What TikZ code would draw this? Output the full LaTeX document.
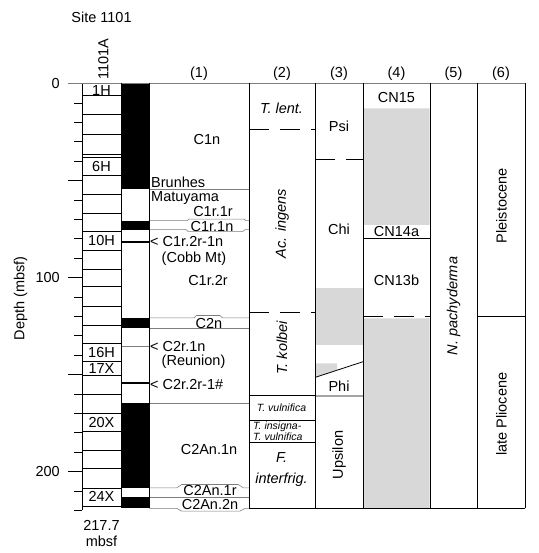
\documentclass[tikz,border=0pt]{standalone}
\usepackage{fontspec}
\setmainfont{Liberation Sans}
\usepackage{tikz}
\definecolor{chrongray}{RGB}{125,125,125}
\definecolor{stipgray}{RGB}{216,216,216}

\begin{document}
\begin{tikzpicture}[x=1pt,y=-1.94pt,
  lbl/.style={inner sep=0pt,font=\fontsize{14.5}{16}\selectfont},
  taxon/.style={inner sep=0pt,font=\fontsize{14.5}{16}\selectfont\itshape},
  taxsmall/.style={inner sep=0pt,font=\fontsize{10.5}{11.5}\selectfont\itshape},
  chron/.style={chrongray,line width=0.6pt},
  colline/.style={line width=0.8pt},
  zdash/.style={line width=0.8pt,dash pattern=on 20pt off 11pt}]
  \useasboundingbox (0,-43.04) rectangle (538,242);
  \node[lbl] (site) at (101.5,-34.2) {Site 1101};
  \node[lbl,rotate=90,anchor=west] (hole) at (103.5,-1.8) {1101A};
  \node[lbl,rotate=90] (depthlbl) at (20.5,110.8) {Depth (mbsf)};
  \foreach \d in {0,100,200} \node[lbl,anchor=east] (ax\d) at (60,\d) {\d};
  \foreach \d in {10,20,...,220} \draw[line width=0.7pt] (74,\d)--(82,\d);
  \foreach \d in {50,100,150,200} \draw[line width=0.7pt] (68,\d)--(74,\d);
  \draw[line width=1pt] (82,0)--(82,220);
  \foreach \a/\b in {0/5.9,5.9/15.9,15.9/26.2,26.2/36.6,37.8/47.5,47.5/57,57/66.8,
    66.8/76.2,76.2/85.8,85.8/95.6,95.6/104.6,104.6/114.6,114.6/124.5,124.5/134,
    134/143.4,143.4/150.3,150.3/160,160/170,170/179.5,179.5/188.9,188.9/198.4,
    198.4/208.4,208.4/217.7}
    \draw[line width=0.6pt] (82,\a) rectangle (121.5,\b);
  \foreach \c/\d in {1H/3.6,6H/42.6,10H/81,16H/138.7,17X/147,20X/174.7,24X/213}
    \node[lbl] (core\c) at (101.5,\d) {\c};
  \fill[stipgray] (315.5,105.6) rectangle (362.5,134.8);
  \fill[stipgray] (315.5,144.2)--(337,144.2)--(337,147.8)--(315.5,151.4)--cycle;
  \fill[stipgray] (363.5,12.8) rectangle (429.5,72.9) (363.5,121) rectangle (429.5,219);
  \foreach \a/\b in {0/54.6,70.7/75.3,120.8/126.2,164.9/208.4,213.3/219}
    \fill (121.5,\a) rectangle (149,\b);
  \draw[chron] (68,0)--(525,0);
  \draw[chron] (121.5,135.7)--(149,135.7);
  \foreach \d in {54.6,126.2,164.9,213.3} \draw[chron] (149,\d)--(249,\d);
  \draw[chron] (149,70.7)--(187,70.7)--(189,69.9)--(244,69.9)--(246,70.7)--(249,70.7);
  \draw[chron] (149,75.3)--(186,75.3)--(188,76.2)--(243,76.2)--(245,75.3)--(249,75.3);
  \draw[chron] (149,120.8)--(194,120.8)--(196.5,119.6)--(220,119.6)--(222.5,120.8)--(249,120.8);
  \draw[chron] (149,208.4)--(176.7,208.4)--(181.7,206.7)--(238.3,206.7)--(243.3,208.4)--(249,208.4);
  \draw[chron] (149,219)--(176.7,219)--(181.7,220.4)--(240,220.4)--(245,219)--(249,219);
  \draw[line width=2pt] (121.5,81.5)--(149,81.5) (121.5,154.5)--(149,154.5);
  \draw[colline] (121.5,0)--(121.5,219) (149,0)--(149,219);
  \foreach \x in {249,315,363,430,477,525} \draw[colline] (\x,0)--(\x,219);
  \draw[colline] (249,219)--(525,219);
  \foreach \n/\x in {1/199,2/282,3/339,4/396.5,5/453.5,6/501}
    \node[lbl] (hd\n) at (\x,-5.2) {(\n)};
  \node[lbl] (c1n) at (207,29.1) {C1n};
  \node[lbl,anchor=west] (brun) at (151,50.9) {Brunhes};
  \node[lbl,anchor=west] (matu) at (151,59.2) {Matuyama};
  \node[lbl] (c1r1r) at (213,66.1) {C1r.1r};
  \node[lbl] (c1r1n) at (212,73.6) {C1r.1n};
  \node[lbl,anchor=west] (cobb) at (150,81.5) {< C1r.2r-1n};
  \node[lbl,anchor=west] (cobbmt) at (161.5,90.1) {(Cobb Mt)};
  \node[lbl] (c1r2r) at (208,101.3) {C1r.2r};
  \node[lbl] (c2n) at (209,123.6) {C2n};
  \node[lbl,anchor=west] (reu) at (150,135.7) {< C2r.1n};
  \node[lbl,anchor=west] (reunion) at (161.5,143.4) {(Reunion)};
  \node[lbl,anchor=west] (c2r) at (150,154.9) {< C2r.2r-1\#};
  \node[lbl] (c2an1n) at (209,188.6) {C2An.1n};
  \node[lbl] (c2an1r) at (210,209.9) {C2An.1r};
  \node[lbl] (c2an2n) at (210,217.1) {C2An.2n};
  \draw[zdash] (249,23.6)--(315,23.6) (249,118.1)--(315,118.1);
  \draw[colline] (249,160.6)--(315,160.6) (249,173.8)--(315,173.8) (249,185.2)--(315,185.2);
  \node[taxon] (tlent) at (281.5,12.8) {T. lent.};
  \node[taxon,rotate=90] (ingens) at (282,72.2) {Ac. ingens};
  \node[taxon,rotate=90] (kolbei) at (282,136.3) {T. kolbei};
  \node[taxsmall] (vuln) at (281.5,167.3) {T. vulnifica};
  \node[taxsmall,align=left,anchor=west] (insig) at (253,179.2) {T. insigna-\\T. vulnifica};
  \node[taxon,align=center,font=\fontsize{14.5}{20.5}\selectfont\itshape] (interf) at (281.5,199) {F.\\interfrig.};
  \draw[zdash] (315,39)--(363,39);
  \draw[colline] (315,151.5)--(363,143.4) (315,161.1)--(363,161.1);
  \node[lbl] (psi) at (339,21.9) {Psi};
  \node[lbl] (chi) at (339,75.2) {Chi};
  \node[lbl] (phi) at (339,156.1) {Phi};
  \node[lbl,rotate=90] (ups) at (339,191.5) {Upsilon};
  \draw[colline] (363,79.8)--(430,79.8);
  \draw[zdash] (363,120.2)--(430,120.2);
  \node[lbl] (cn15) at (396.5,7.1) {CN15};
  \node[lbl] (cn14a) at (396.5,76.1) {CN14a};
  \node[lbl] (cn13b) at (396.5,101.3) {CN13b};
  \node[taxon,rotate=90] (pachy) at (453.5,114.7) {N. pachyderma};
  \draw[colline] (477,120.2)--(525,120.2);
  \node[lbl,rotate=90] (pleist) at (501.5,63.1) {Pleistocene};
  \node[lbl,rotate=90] (plio) at (501.5,170.4) {late Pliocene};
  \node[lbl] (bot) at (101.5,227.6) {217.7};
  \node[lbl] (mbsf) at (101.5,236.2) {mbsf};
\end{tikzpicture}
\end{document}
